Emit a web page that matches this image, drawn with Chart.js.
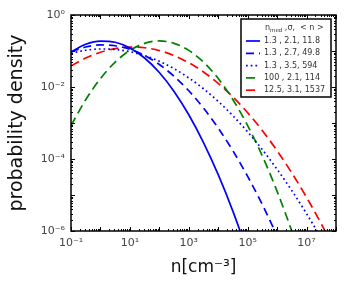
<!DOCTYPE html>
<html>
<head>
<meta charset="utf-8">
<script src="https://cdn.jsdelivr.net/npm/chart.js@4.4.1/dist/chart.umd.min.js"></script>
<style>
  html, body { margin: 0; padding: 0; background: #fff; }
</style>
</head>
<body>
<canvas id="chart" width="356" height="292"></canvas>
<script>
// density n [cm^-3], half-decade steps
const nValues = [0.1, 0.3162, 1, 3.162, 10, 31.62, 100, 316.2, 1000, 3162, 1e4, 31623, 1e5, 316228, 1e6, 3.162e6, 1e7, 3.162e7, 1e8];

// probability density
const solidBlue  = [0.09407, 0.1535, 0.1886, 0.1746, 0.1218, 0.0640, 0.02533, 0.007552, 0.0016965, 2.872e-4, 3.663e-5, 3.518e-6, 2.545e-7, null, null, null, null, null, null];
const dashedBlue = [0.09543, 0.1294, 0.1471, 0.1402, 0.1120, 0.07509, 0.0422, 0.01988, 0.007855, 0.002603, 7.228e-4, 1.683e-4, 3.287e-5, 5.384e-6, 7.392e-7, null, null, null, null];
const dottedBlue = [0.08652, 0.1048, 0.1137, 0.1103, 0.09574, 0.07437, 0.05171, 0.03217, 0.0179, 0.008922, 0.003977, 0.001587, 5.663e-4, 1.809e-4, 5.17e-5, 1.322e-5, 3.027e-6, 6.2e-7, 1.136e-7];
const greenCurve = [8.493e-4, 0.004437, 0.01716, 0.04912, 0.1041, 0.1634, 0.19, 0.1634, 0.1041, 0.04912, 0.01716, 0.004437, 8.493e-4, 1.204e-4, 1.264e-5, 9.821e-7, 5.65e-8, null, null];
const redCurve   = [0.03826, 0.0637, 0.09235, 0.1166, 0.1284, 0.1231, 0.1027, 0.07476, 0.04738, 0.02617, 0.01259, 0.005274, 0.001925, 6.122e-4, 1.696e-4, 4.094e-5, 8.61e-6, 1.577e-6, 2.516e-7];

const seriesLabels = ['1.3 , 2.1, 11.8', '1.3 , 2.7, 49.8', '1.3 , 3.5, 594', '100 , 2.1, 114', '12.5, 3.1, 1537'];

const xTicks = [0.1, 1, 10, 100, 1000, 1e4, 1e5, 1e6, 1e7, 1e8];
const xTickLabels = { 0.1: '10\u207B\u00B9', 10: '10\u00B9', 1000: '10\u00B3', 100000: '10\u2075', 10000000: '10\u2077' };
const yTicks = [1e-6, 1e-5, 1e-4, 1e-3, 1e-2, 1e-1, 1];
const yTickLabels = { 1: '10\u2070', 0.01: '10\u207B\u00B2', 0.0001: '10\u207B\u2074', 0.000001: '10\u207B\u2076' };

Chart.defaults.font.family = 'DejaVu Sans';

function toPoints(arr) {
    return nValues.map((n, i) => ({ x: n, y: arr[i] }));
}

function makeSet(label, arr, color, dash) {
    return {
        label: label,
        data: toPoints(arr),
        borderColor: color,
        borderWidth: 1.7,
        borderDash: dash,
        pointRadius: 0,
        fill: false,
        cubicInterpolationMode: 'monotone',
        spanGaps: false
    };
}

function findLabel(map, v) {
    for (const k in map) {
        if (Math.abs(Math.log10(Number(k)) - Math.log10(v)) < 1e-6) return map[k];
    }
    return '';
}

// inward ticks on all four sides, frame and legend box
const framePlugin = {
    id: 'frame',
    afterDraw(chart) {
        const ctx = chart.ctx;
        const a = chart.chartArea;
        const xs = chart.scales.x, ys = chart.scales.y;
        ctx.save();
        ctx.strokeStyle = '#000';
        ctx.lineWidth = 1;
        ctx.beginPath();
        for (let k = -1; k <= 8; k++) {
            for (let m = 1; m <= 9; m++) {
                const v = m * Math.pow(10, k);
                if (v > 1e8 * 1.0001) continue;
                const px = Math.round(xs.getPixelForValue(v)) + 0.5;
                const len = m === 1 ? 4 : 2;
                ctx.moveTo(px, a.bottom); ctx.lineTo(px, a.bottom - len);
                ctx.moveTo(px, a.top); ctx.lineTo(px, a.top + len);
            }
        }
        for (let k = -6; k <= 0; k++) {
            for (let m = 1; m <= 9; m++) {
                const v = m * Math.pow(10, k);
                if (v > 1.0001) continue;
                const py = Math.round(ys.getPixelForValue(v)) + 0.5;
                const len = m === 1 ? 4 : 2;
                ctx.moveTo(a.left, py); ctx.lineTo(a.left + len, py);
                ctx.moveTo(a.right, py); ctx.lineTo(a.right - len, py);
            }
        }
        ctx.stroke();
        ctx.lineWidth = 1.5;
        ctx.strokeRect(a.left, a.top, a.right - a.left, a.bottom - a.top);

        // legend
        const bx = a.right - 95, by = a.top + 4, bw = 90, bh = 78;
        ctx.fillStyle = '#fff';
        ctx.fillRect(bx, by, bw, bh);
        ctx.lineWidth = 1.5;
        ctx.strokeRect(bx, by, bw, bh);
        ctx.fillStyle = '#333';
        ctx.textBaseline = 'middle';
        ctx.textAlign = 'left';
        let hx = bx + 24, hy = by + 9;
        ctx.font = '8px "DejaVu Sans"';
        ctx.fillText('n', hx, hy);
        hx += ctx.measureText('n').width;
        ctx.font = '5.5px "DejaVu Sans"';
        ctx.fillText('med', hx, hy + 2.5);
        hx += ctx.measureText('med').width;
        ctx.font = '8px "DejaVu Sans"';
        ctx.fillText(' ,\u03C3,  < n >', hx, hy);
        chart.data.datasets.forEach((ds, i) => {
            const ly = by + 22 + i * 12.3;
            ctx.strokeStyle = ds.borderColor;
            ctx.lineWidth = 1.7;
            ctx.setLineDash(ds.borderDash || []);
            ctx.beginPath();
            ctx.moveTo(bx + 5, ly);
            ctx.lineTo(bx + 19, ly);
            ctx.stroke();
            ctx.setLineDash([]);
            ctx.fillStyle = '#333';
            ctx.fillText(ds.label, bx + 23, ly);
        });
        ctx.restore();
    }
};

new Chart(document.getElementById('chart'), {
    type: 'line',
    data: {
        datasets: [
            makeSet(seriesLabels[0], solidBlue, '#0000ff', []),
            makeSet(seriesLabels[1], dashedBlue, '#0000ff', [8, 5]),
            makeSet(seriesLabels[2], dottedBlue, '#0000ff', [1.7, 3]),
            makeSet(seriesLabels[3], greenCurve, '#008000', [9, 5]),
            makeSet(seriesLabels[4], redCurve, '#ff0000', [9, 5])
        ]
    },
    options: {
        responsive: false,
        animation: false,
        devicePixelRatio: 1,
        layout: { padding: { left: 0, right: 20, top: 15, bottom: 0 } },
        plugins: {
            legend: { display: false },
            tooltip: { enabled: false }
        },
        scales: {
            x: {
                type: 'logarithmic',
                min: 0.1,
                max: 1e8,
                grid: { display: false, drawTicks: false },
                border: { display: false },
                afterBuildTicks: s => { s.ticks = xTicks.map(v => ({ value: v })); },
                afterFit: s => { s.height = 61; },
                ticks: {
                    autoSkip: false,
                    maxRotation: 0,
                    padding: 6,
                    color: '#444',
                    font: { size: 11 },
                    callback: v => findLabel(xTickLabels, v)
                },
                title: {
                    display: true,
                    text: 'n[cm\u207B\u00B3]',
                    color: '#111',
                    font: { size: 17 },
                    padding: { top: 0, bottom: 14 }
                }
            },
            y: {
                type: 'logarithmic',
                min: 1e-6,
                max: 1,
                grid: { display: false, drawTicks: false },
                border: { display: false },
                afterBuildTicks: s => { s.ticks = yTicks.map(v => ({ value: v })); },
                afterFit: s => { s.width = 71; },
                ticks: {
                    autoSkip: false,
                    padding: 6,
                    color: '#444',
                    font: { size: 11 },
                    callback: v => findLabel(yTickLabels, v)
                },
                title: {
                    display: true,
                    text: 'probability density',
                    color: '#111',
                    font: { size: 19 },
                    padding: { top: 6, bottom: 0 }
                }
            }
        }
    },
    plugins: [framePlugin]
});
</script>
</body>
</html>
